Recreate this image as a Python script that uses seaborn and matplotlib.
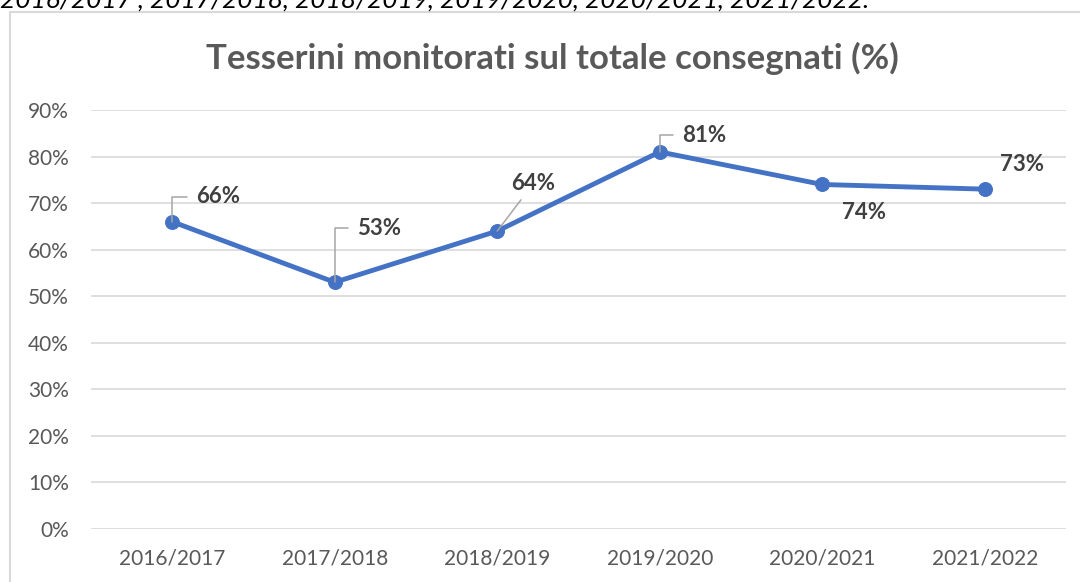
import matplotlib
matplotlib.use("Agg")
import matplotlib.pyplot as plt
import matplotlib.ticker as mticker
from matplotlib.patches import Rectangle
import seaborn as sns
import pandas as pd

# Dati
stagioni = ["2016/2017", "2017/2018", "2018/2019", "2019/2020", "2020/2021", "2021/2022"]
monitorati = [0.66, 0.53, 0.64, 0.81, 0.74, 0.73]
etichette = ["66%", "53%", "64%", "81%", "74%", "73%"]
y_ticks = [0.0, 0.1, 0.2, 0.3, 0.4, 0.5, 0.6, 0.7, 0.8, 0.9]

df = pd.DataFrame({"stagione": stagioni, "pct": monitorati})

sns.set_style("white")
plt.rcParams["font.family"] = ["Lato", "DejaVu Sans"]

BLU = "#4472C4"
GRIGIO = "#595959"
SCURO = "#404040"
LINEA = "#D9D9D9"

fig = plt.figure(figsize=(10.8, 5.82), dpi=100)
ax = fig.add_axes([91 / 1080, 1 - 529 / 582, (1066 - 91) / 1080, (529 - 110) / 582])

sns.lineplot(data=df, x="stagione", y="pct", sort=False, color=BLU, lw=3.5,
             marker="o", markersize=10, markeredgecolor=BLU, ax=ax)

ax.set_xlim(-0.5, 5.5)
ax.set_ylim(0, 0.9)
ax.set_yticks(y_ticks)
ax.yaxis.set_major_formatter(mticker.PercentFormatter(1.0, decimals=0))
ax.grid(axis="y", color=LINEA, lw=1.2)
ax.grid(axis="x", visible=False)
ax.set_axisbelow(True)
for s in ax.spines.values():
    s.set_visible(False)
ax.tick_params(axis="both", length=0, labelsize=15, labelcolor=GRIGIO)
ax.tick_params(axis="y", pad=16)
ax.tick_params(axis="x", pad=14)
ax.set_xlabel("")
ax.set_ylabel("")

# etichette dati (offset in punti)
offsets = [(17, 18), (16, 39), (10, 34), (16, 12), (14, -20), (11, 18)]
leader = ["angle", "angle", "line", "angle", None, None]
for i, (val, txt) in enumerate(zip(monitorati, etichette)):
    kw = {}
    if leader[i] == "angle":
        kw["arrowprops"] = dict(arrowstyle="-", color="#A6A6A6", lw=1.1,
                                connectionstyle="angle,angleA=0,angleB=90,rad=0",
                                shrinkA=4, shrinkB=0)
    elif leader[i] == "line":
        kw["arrowprops"] = dict(arrowstyle="-", color="#A6A6A6", lw=1.1,
                                shrinkA=2, shrinkB=0)
    ax.annotate(txt, xy=(i, val), xytext=offsets[i], textcoords="offset points",
                ha="left", va="center", fontsize=16, fontweight="bold",
                color=SCURO, **kw)

# titolo
fig.text(552 / 1080, 1 - 58 / 582, "Tesserini monitorati sul totale consegnati (%)",
         ha="center", va="center", fontsize=25, fontweight="bold", color=GRIGIO)

# cornice del grafico
fig.add_artist(Rectangle((10 / 1080, -0.1), 1.2, 1 - 12 / 582 + 0.1,
                         transform=fig.transFigure, fill=False,
                         edgecolor=LINEA, lw=1.5))

# testo del documento tagliato in alto
fig.text(0.0, 1 - 8 / 582,
         "2016/2017 , 2017/2018, 2018/2019, 2019/2020, 2020/2021, 2021/2022.",
         ha="left", va="baseline", fontsize=19, style="italic", color="black")

fig.savefig("out.png", dpi=100)
